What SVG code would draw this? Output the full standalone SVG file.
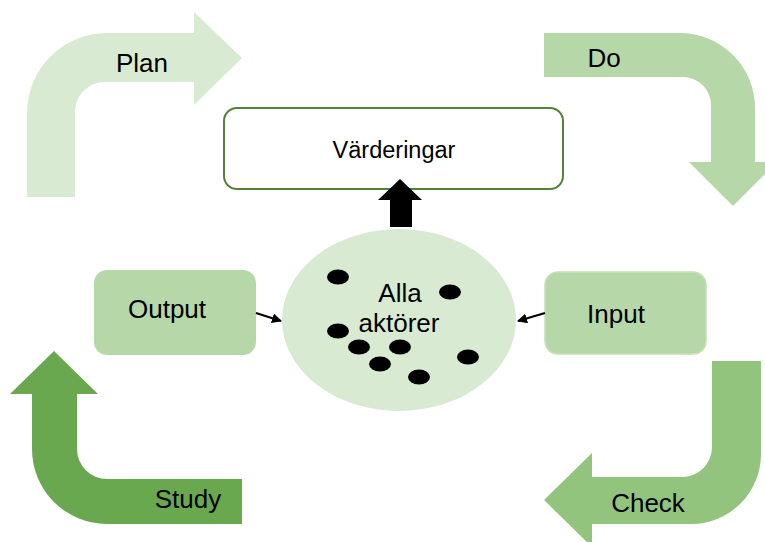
<svg xmlns="http://www.w3.org/2000/svg" width="765" height="542" viewBox="0 0 765 542">
<style>
text{font-family:"Liberation Sans",Arial,sans-serif;fill:#000;text-anchor:middle}
.lbl{font-size:26px}
.dot{fill:#000}
.conn{stroke:#000;stroke-width:2;fill:none}
</style>
<defs>
<marker id="ah" markerWidth="10" markerHeight="10" refX="9" refY="5" orient="auto" markerUnits="userSpaceOnUse">
<path d="M0,0 L10,5 L0,10 Z" fill="#000"/>
</marker>
</defs>
<rect width="765" height="542" fill="#fff"/>
<g id="plan">
<path d="M27,197 L27,113 A80,80 0 0 1 107,33 L194,33 L194,12 L242,58 L194,105 L194,82 L105,82 A30,30 0 0 0 75,112 L75,197 Z" fill="#d9ead3"/>
<text class="lbl" x="142" y="72">Plan</text>
</g>
<g id="do">
<path d="M544,33 L680,33 A75,75 0 0 1 755,108 L755,162 L777,162 L733,206 L689,162 L711,162 L711,105 A28,28 0 0 0 683,77 L544,77 Z" fill="#b6d7a8"/>
<text class="lbl" x="604" y="67">Do</text>
</g>
<g id="check">
<path d="M761,361 L761,454 A70,70 0 0 1 691,524 L592,524 L592,547 L544,500 L592,453 L592,477 L682,477 A30,30 0 0 0 712,447 L712,361 Z" fill="#93c47d"/>
<text class="lbl" x="648" y="512">Check</text>
</g>
<g id="study">
<path d="M242,524 L107,524 A75,75 0 0 1 32,449 L32,394 L10,394 L54,351 L98,394 L77,394 L77,449 A30,30 0 0 0 107,479 L242,479 Z" fill="#6aa84f"/>
<text class="lbl" x="188" y="508">Study</text>
</g>
<g id="varderingar">
<rect x="224" y="108" width="339" height="81" rx="13" fill="#fff" stroke="#548235" stroke-width="2"/>
<text x="394" y="158" style="font-size:23.5px">Värderingar</text>
</g>
<g id="output">
<rect x="94" y="270" width="162" height="85" rx="13" fill="#b6d7a8"/>
<text class="lbl" x="167" y="318">Output</text>
</g>
<g id="input">
<rect x="545" y="272" width="161" height="82" rx="13" fill="#b6d7a8" stroke="#c5e0b4" stroke-width="1.5"/>
<text class="lbl" x="616" y="323">Input</text>
</g>
<g id="alla-aktorer">
<ellipse cx="399" cy="320" rx="117" ry="91" fill="#d9ead3"/>
<ellipse class="dot" cx="338" cy="277" rx="11" ry="7.5"/>
<ellipse class="dot" cx="450" cy="292" rx="11" ry="7.5"/>
<ellipse class="dot" cx="338" cy="331" rx="11" ry="7.5"/>
<ellipse class="dot" cx="359" cy="347" rx="11" ry="7.5"/>
<ellipse class="dot" cx="400" cy="347" rx="11" ry="7.5"/>
<ellipse class="dot" cx="380" cy="364" rx="11" ry="7.5"/>
<ellipse class="dot" cx="419" cy="377" rx="11" ry="7.5"/>
<ellipse class="dot" cx="468" cy="357" rx="11" ry="7.5"/>
<text class="lbl" x="400" y="302">Alla</text>
<text class="lbl" x="399" y="332">aktörer</text>
</g>
<g id="connectors">
<polygon points="390,227 390,200 378,200 400,179 422,200 412,200 412,227" fill="#000"/>
<line class="conn" x1="256" y1="313" x2="281" y2="321" marker-end="url(#ah)"/>
<line class="conn" x1="545" y1="313" x2="518" y2="321" marker-end="url(#ah)"/>
</g>
</svg>
